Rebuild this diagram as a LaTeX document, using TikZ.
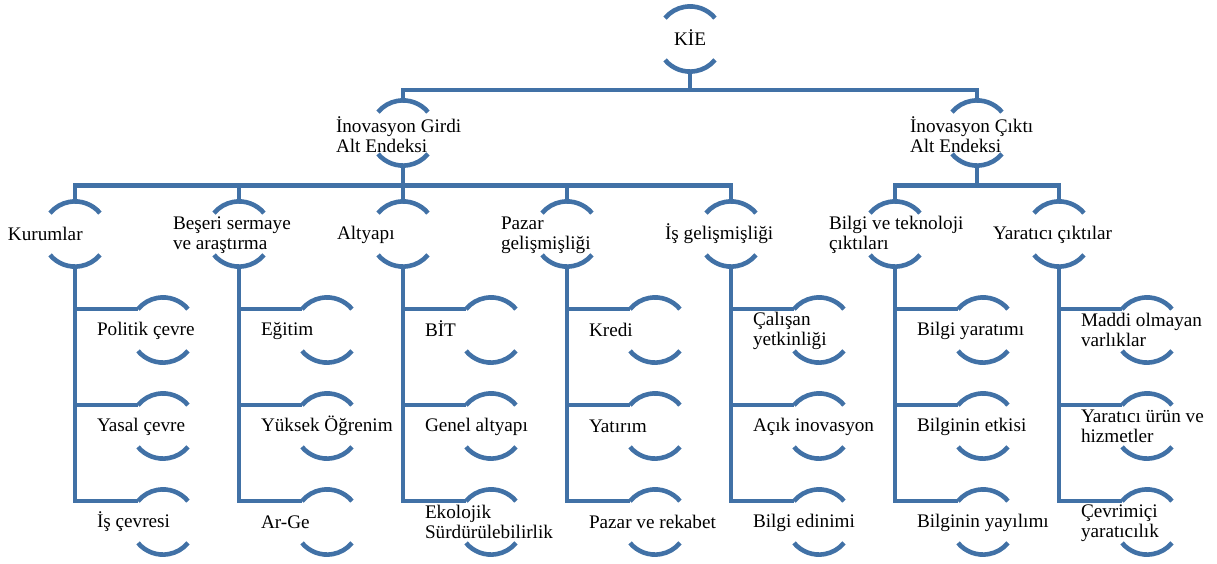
\documentclass[tikz,border=0pt]{standalone}
\usepackage{fontspec}
\setmainfont{Liberation Serif}
\definecolor{lc}{RGB}{65,113,166}
\newcommand\ls{\rule[-4pt]{0pt}{20pt}}
\begin{document}
\lineskiplimit=-10pt
\begin{tikzpicture}[x=1pt,y=1pt,
  hub/.style={circle, minimum size=65.2pt, inner sep=0pt, outer sep=0pt},
  conn/.style={draw=lc, line width=4.6pt},
  lbl/.style={anchor=west, inner sep=0pt, outer sep=0pt, align=left,
    font=\fontsize{19.2}{20}\selectfont},
  ctr/.style={lbl, anchor=center, align=center}]
\useasboundingbox (0,0) rectangle (1217,-563);
% hubs
\node[hub] (kie) at (690,-39) {};
\node[hub] (girdi) at (403,-133) {};
\node[hub] (cikti) at (977,-133) {};
\foreach \n/\x in {kur/75,bes/239,alt/403,paz/567,isg/731,bil/895,yar/1059}{
  \node[hub] (\n) at (\x,-234) {};
  \pgfmathsetmacro\cx{\x+88}
  \node[hub] (\n1) at (\cx,-330) {};
  \node[hub] (\n2) at (\cx,-426) {};
  \node[hub] (\n3) at (\cx,-522) {};
}
% arcs
\foreach \n in {kie,girdi,cikti,kur,bes,alt,paz,isg,bil,yar,
  kur1,kur2,kur3,bes1,bes2,bes3,alt1,alt2,alt3,paz1,paz2,paz3,
  isg1,isg2,isg3,bil1,bil2,bil3,yar1,yar2,yar3}{
  \draw[conn] (\n.40) arc[start angle=40,end angle=140,radius=32.6pt]
              (\n.220) arc[start angle=220,end angle=320,radius=32.6pt];
}
% connectors
\coordinate (b0) at (690,-90);
\coordinate (b1) at (403,-185.5);
\coordinate (b2) at (977,-185.5);
\draw[conn] (kie.south) -- (b0);
\draw[conn] (girdi.north) |- (b0) -| (cikti.north);
\draw[conn] (girdi.south) -- (alt.north);
\draw[conn] (kur.north) |- (b1) -| (isg.north);
\draw[conn] (bes.north) -- (bes.north |- b1);
\draw[conn] (paz.north) -- (paz.north |- b1);
\draw[conn] (cikti.south) -- (b2);
\draw[conn] (bil.north) |- (b2) -| (yar.north);
\foreach \n in {kur,bes,alt,paz,isg,bil,yar}{
  \draw[conn] (\n.south) |- (\n3.140);
  \draw[conn] (\n.south |- \n1.140) -- (\n1.140);
  \draw[conn] (\n.south |- \n2.140) -- (\n2.140);
}
% labels
\node[ctr] (kie-t) at (kie.center) {KİE\ls};
\node[lbl] (girdi-t) at ([xshift=-67pt,yshift=-3pt]girdi.center) {İnovasyon Girdi\ls\\Alt Endeksi\ls};
\node[lbl] (cikti-t) at ([xshift=-67pt,yshift=-3pt]cikti.center) {İnovasyon Çıktı\ls\\Alt Endeksi\ls};
\node[lbl] (kur-t) at ([xshift=-67pt]kur.center) {Kurumlar\ls};
\node[lbl] (bes-t) at ([xshift=-66pt]bes.center) {Beşeri sermaye\ls\\ve araştırma\ls};
\node[lbl] (alt-t) at ([xshift=-66pt]alt.center) {Altyapı\ls};
\node[lbl] (paz-t) at ([xshift=-66pt]paz.center) {Pazar\ls\\gelişmişliği\ls};
\node[lbl] (isg-t) at ([xshift=-66pt]isg.center) {İş gelişmişliği\ls};
\node[lbl] (bil-t) at ([xshift=-66pt]bil.center) {Bilgi ve teknoloji\ls\\çıktıları\ls};
\node[lbl] (yar-t) at ([xshift=-66pt]yar.center) {Yaratıcı çıktılar\ls};
\node[lbl] (kur1-t) at ([xshift=-66pt]kur1.center) {Politik çevre\ls};
\node[lbl] (kur2-t) at ([xshift=-66pt]kur2.center) {Yasal çevre\ls};
\node[lbl] (kur3-t) at ([xshift=-66pt]kur3.center) {İş çevresi\ls};
\node[lbl] (bes1-t) at ([xshift=-66pt]bes1.center) {Eğitim\ls};
\node[lbl] (bes2-t) at ([xshift=-66pt]bes2.center) {Yüksek Öğrenim\ls};
\node[lbl] (bes3-t) at ([xshift=-66pt]bes3.center) {Ar-Ge\ls};
\node[lbl] (alt1-t) at ([xshift=-66pt]alt1.center) {BİT\ls};
\node[lbl] (alt2-t) at ([xshift=-66pt]alt2.center) {Genel altyapı\ls};
\node[lbl] (alt3-t) at ([xshift=-66pt]alt3.center) {Ekolojik\ls\\Sürdürülebilirlik\ls};
\node[lbl] (paz1-t) at ([xshift=-66pt]paz1.center) {Kredi\ls};
\node[lbl] (paz2-t) at ([xshift=-66pt]paz2.center) {Yatırım\ls};
\node[lbl] (paz3-t) at ([xshift=-66pt]paz3.center) {Pazar ve rekabet\ls};
\node[lbl] (isg1-t) at ([xshift=-66pt]isg1.center) {Çalışan\ls\\yetkinliği\ls};
\node[lbl] (isg2-t) at ([xshift=-66pt]isg2.center) {Açık inovasyon\ls};
\node[lbl] (isg3-t) at ([xshift=-66pt]isg3.center) {Bilgi edinimi\ls};
\node[lbl] (bil1-t) at ([xshift=-66pt]bil1.center) {Bilgi yaratımı\ls};
\node[lbl] (bil2-t) at ([xshift=-66pt]bil2.center) {Bilginin etkisi\ls};
\node[lbl] (bil3-t) at ([xshift=-66pt]bil3.center) {Bilginin yayılımı\ls};
\node[lbl] (yar1-t) at ([xshift=-66pt]yar1.center) {Maddi olmayan\ls\\varlıklar\ls};
\node[lbl] (yar2-t) at ([xshift=-66pt]yar2.center) {Yaratıcı ürün ve\ls\\hizmetler\ls};
\node[lbl] (yar3-t) at ([xshift=-66pt]yar3.center) {Çevrimiçi\ls\\yaratıcılık\ls};
\end{tikzpicture}
\end{document}
